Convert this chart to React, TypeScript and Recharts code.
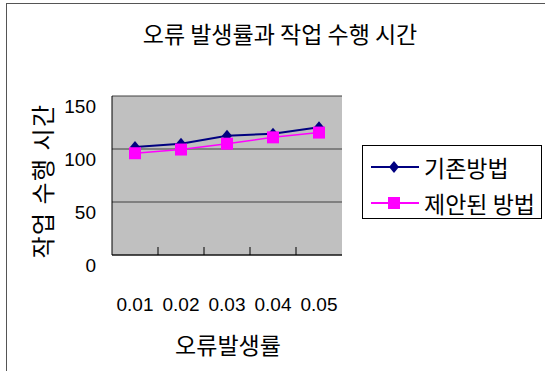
import { LineChart, Line, XAxis, YAxis, CartesianGrid, Legend, Label } from "recharts";

const rates = ["0.01", "0.02", "0.03", "0.04", "0.05"];
const existing = [102, 105, 112.5, 114.5, 120.5];
const proposed = [96, 99.5, 105, 111, 115.5];
const yTicks = [0, 50, 100, 150];
const names = ["기존방법", "제안된 방법"];

const data = rates.map((r, i) => ({ rate: r, existing: existing[i], proposed: proposed[i] }));

const KO = "'Noto Sans CJK KR', sans-serif";
const NUM = "'Liberation Sans', Arial, sans-serif";
const NAVY = "#000080";
const PINK = "#ff00ff";

const diamond = (cx: number, cy: number) =>
  `M${cx},${cy - 6}L${cx + 5},${cy}L${cx},${cy + 6}L${cx - 5},${cy}Z`;

const DiamondDot = (p: any) => {
  if (p.cx == null) return <g key={p.key} />;
  return <path key={p.key} d={diamond(p.cx, p.cy)} fill={NAVY} />;
};

const SquareDot = (p: any) => {
  if (p.cx == null) return <g key={p.key} />;
  return <rect key={p.key} x={p.cx - 6} y={p.cy - 6} width={12} height={12} fill={PINK} />;
};

const XTick = (p: any) => {
  const { x, y, payload, index } = p;
  return (
    <g>
      {index < rates.length - 1 && (
        <line x1={x + 23} x2={x + 23} y1={y} y2={y - 8} stroke="#000" />
      )}
      <text x={x} y={y + 49} textAnchor="middle" dominantBaseline="central" fontFamily={NUM} fontSize={19} fill="#000">
        {payload.value}
      </text>
    </g>
  );
};

const YTick = (p: any) => {
  const { x, y, payload } = p;
  return (
    <text x={x - 16} y={y + 10} textAnchor="end" dominantBaseline="central" fontFamily={NUM} fontSize={19} fill="#000">
      {payload.value}
    </text>
  );
};

const LegendBox = () => (
  <div style={{ border: "1px solid #000", width: 178, height: 72, background: "#fff", position: "relative", fontFamily: KO, fontSize: 23 }}>
    {names.map((n, i) => (
      <div key={n} style={{ position: "absolute", left: 0, top: 6 + i * 36, height: 30, display: "flex", alignItems: "center" }}>
        <svg width={61} height={30}>
          <line x1={8} x2={56} y1={15} y2={15} stroke={i === 0 ? NAVY : PINK} strokeWidth={2} />
          {i === 0 ? <path d={diamond(31, 15)} fill={NAVY} /> : <rect x={25} y={9} width={12} height={12} fill={PINK} />}
        </svg>
        <span style={{ whiteSpace: "nowrap", lineHeight: "30px" }}>{n}</span>
      </div>
    ))}
  </div>
);

export default function App() {
  return (
    <div style={{ position: "fixed", left: 0, top: 0, width: 545, height: 371, overflow: "hidden", background: "#fff" }}>
      <div style={{ position: "absolute", left: 6, top: 3, width: 600, height: 420, border: "1px solid #555" }} />
      <div style={{ position: "absolute", left: 0, width: 560, top: 16, textAlign: "center", fontFamily: KO, fontSize: 23, lineHeight: "34px", color: "#000" }}>
        오류 발생률과 작업 수행 시간
      </div>
      <div style={{ position: "absolute", left: 0, top: 0 }}>
        <LineChart width={545} height={371} data={data} margin={{ top: 96, right: 203, left: 0, bottom: 0 }}>
          <CartesianGrid vertical={false} fill="#c0c0c0" fillOpacity={1} stroke="#404040" />
          <XAxis dataKey="rate" scale="band" height={116} tickLine={false} tickSize={0} tickMargin={0} axisLine={{ stroke: "#000" }} tick={<XTick />} interval={0}>
            <Label content={() => (
              <text x={228} y={344} textAnchor="middle" dominantBaseline="central" fontFamily={KO} fontSize={23} fill="#000">오류발생률</text>
            )} />
          </XAxis>
          <YAxis width={112} domain={[0, 150]} ticks={yTicks} tickLine={false} tickSize={0} tickMargin={0} axisLine={{ stroke: "#000" }} tick={<YTick />}>
            <Label content={() => (
              <text x={41} y={181} transform="rotate(-90 41 181)" textAnchor="middle" dominantBaseline="central" fontFamily={KO} fontSize={24} letterSpacing={1.5} fill="#000">작업 수행 시간</text>
            )} />
          </YAxis>
          <YAxis yAxisId="r" orientation="right" width={0} tick={false} tickLine={false} axisLine={{ stroke: "#808080" }} />
          <Legend layout="vertical" align="center" verticalAlign="middle" content={<LegendBox />} wrapperStyle={{ left: 362, top: 145, width: 180, height: 74 }} />
          <Line type="linear" dataKey="existing" name={names[0]} stroke={NAVY} strokeWidth={2} dot={DiamondDot} isAnimationActive={false} />
          <Line type="linear" dataKey="proposed" name={names[1]} stroke={PINK} strokeWidth={1.5} dot={SquareDot} isAnimationActive={false} />
        </LineChart>
      </div>
    </div>
  );
}
